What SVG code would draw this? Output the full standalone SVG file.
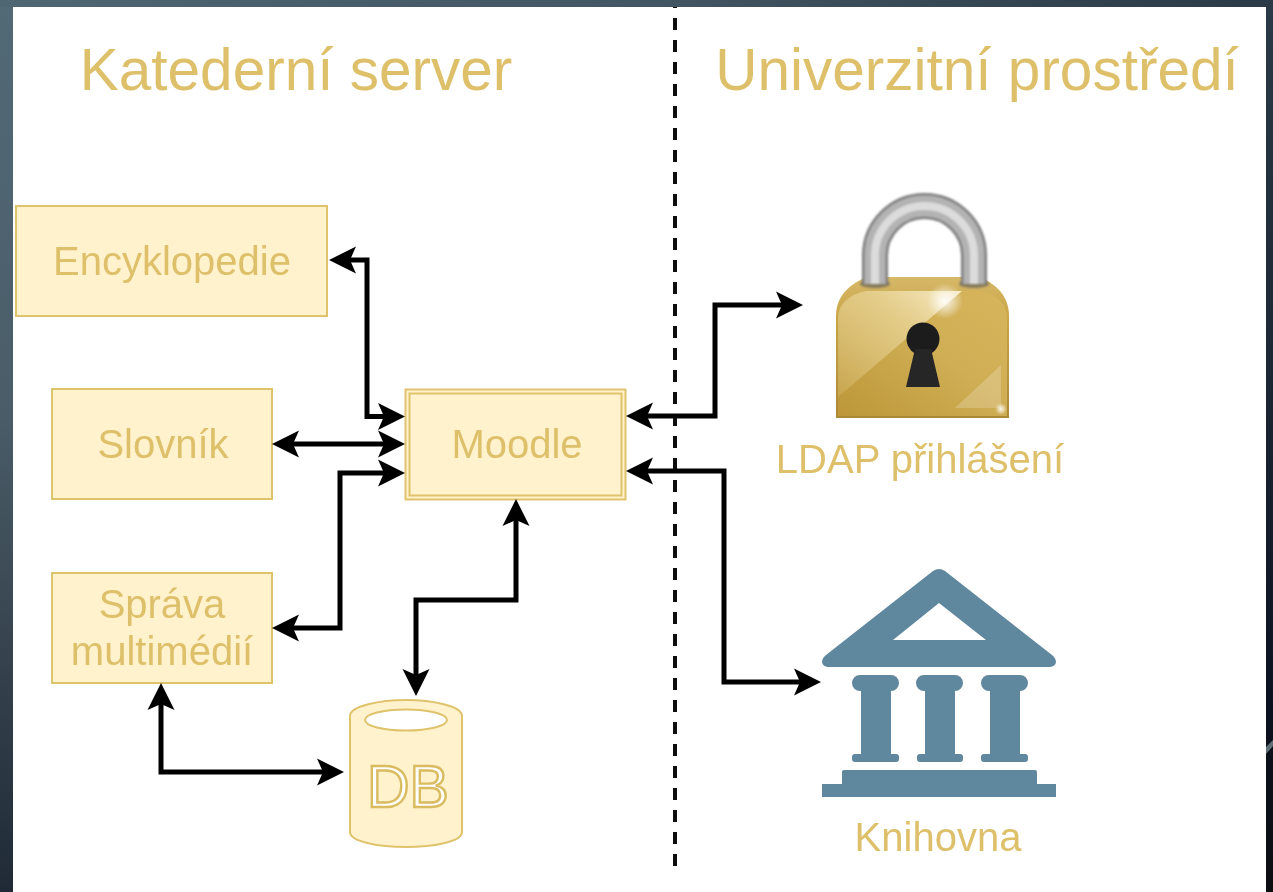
<svg xmlns="http://www.w3.org/2000/svg" width="1273" height="892" viewBox="0 0 1273 892">
<style>
.box{fill:#fff2cc;stroke:#dfc36c;stroke-width:2}
.t{font-family:"Liberation Sans",Arial,sans-serif;fill:#dec06a;text-anchor:middle}
.h{font-size:58.500px}
.l{font-size:40px}
.c{fill:none;stroke:#000;stroke-width:5;marker-start:url(#a);marker-end:url(#a)}
.bank{fill:#5f879e}
.sh{fill:none}
</style>
<defs>
<marker id="a" markerUnits="userSpaceOnUse" markerWidth="30" markerHeight="30" viewBox="0 0 30 30" refX="9" refY="15" orient="auto-start-reverse"><path d="M2 1.500 L29 15 L2 28.500 L8 15Z" fill="#000"/></marker>
<linearGradient id="bgL" x1="0" y1="0" x2="0" y2="1"><stop offset="0" stop-color="#526a76"/><stop offset=".45" stop-color="#4a5d69"/><stop offset=".68" stop-color="#3a4853"/><stop offset="1" stop-color="#1f2a36"/></linearGradient>
<linearGradient id="bgT" x1="0" y1="0" x2="1" y2="0"><stop offset="0" stop-color="#4f6673"/><stop offset=".5" stop-color="#435663"/><stop offset="1" stop-color="#2a3a46"/></linearGradient>
<linearGradient id="bgR" x1="0" y1="0" x2="0" y2="1"><stop offset="0" stop-color="#2a3a46"/><stop offset=".4" stop-color="#1c2833"/><stop offset=".78" stop-color="#0c1220"/><stop offset="1" stop-color="#0c0e12"/></linearGradient>
<linearGradient id="gold" x1="0" y1="1" x2="1" y2="0"><stop offset="0" stop-color="#bd9738"/><stop offset=".55" stop-color="#cfae55"/><stop offset="1" stop-color="#d6b55c"/></linearGradient>
<linearGradient id="goldEdge" x1="0" y1="0" x2="0" y2="1"><stop offset="0" stop-color="#d6b868"/><stop offset=".3" stop-color="#c9a445"/><stop offset="1" stop-color="#ab8a35"/></linearGradient>
<linearGradient id="wedge" x1="0" y1="1" x2="1" y2="0"><stop offset="0" stop-color="#f3e3b0" stop-opacity=".15"/><stop offset=".6" stop-color="#f3e3b0" stop-opacity=".55"/><stop offset="1" stop-color="#fbf2d4" stop-opacity=".9"/></linearGradient>
<linearGradient id="metal" gradientUnits="userSpaceOnUse" x1="862" y1="0" x2="888" y2="0"><stop offset="0" stop-color="#777"/><stop offset=".3" stop-color="#c9c9c9"/><stop offset=".55" stop-color="#e2e2e2"/><stop offset="1" stop-color="#8e8e8e"/></linearGradient>
<radialGradient id="glow"><stop offset="0" stop-color="#fff" stop-opacity=".9"/><stop offset="1" stop-color="#fff" stop-opacity="0"/></radialGradient>
<filter id="soft" filterUnits="userSpaceOnUse" x="820" y="180" width="210" height="250"><feGaussianBlur stdDeviation="1.200"/></filter>
<filter id="all" filterUnits="userSpaceOnUse" x="0" y="0" width="1273" height="892"><feGaussianBlur stdDeviation="0.700"/></filter>
</defs>
<rect width="1273" height="892" fill="url(#bgT)"/>
<rect x="0" y="7" width="13" height="885" fill="url(#bgL)"/>
<rect x="1266" y="7" width="7" height="885" fill="url(#bgR)"/>
<path d="M1266 747L1273 740V746L1266 754Z" fill="#5f6f78"/>
<rect x="13" y="7" width="1253" height="885" fill="#fff"/>
<g filter="url(#all)">
<text class="t h" x="296" y="90">Katederní server</text>
<text class="t h" x="977" y="90">Univerzitní prostředí</text>
<g id="divider"><path d="M675 7V866" fill="none" stroke="#111" stroke-width="4" stroke-dasharray="12 10" stroke-dashoffset="11"/></g>
<g id="encyklopedie"><rect class="box" x="16" y="206" width="311" height="110"/><text class="t l" x="172" y="275">Encyklopedie</text></g>
<g id="slovnik"><rect class="box" x="52" y="389" width="220" height="110"/><text class="t l" x="163" y="458">Slovník</text></g>
<g id="sprava"><rect class="box" x="52" y="573" width="220" height="110"/><text class="t l" x="162" y="618">Správa</text><text class="t l" x="162" y="665">multimédií</text></g>
<g id="moodle"><rect class="box" x="405.500" y="389.500" width="220" height="110"/><rect class="box" x="409.500" y="393.500" width="212" height="102"/><text class="t l" x="517" y="458">Moodle</text></g>
<g id="db"><path d="M350 716C350 706 380 700 406 700C432 700 462 706 462 716V832C462 842 432 847 406 847C380 847 350 842 350 832Z" fill="#fff2cc" stroke="#dfc36c" stroke-width="2"/><ellipse cx="406" cy="720" rx="41" ry="10.500" fill="#fff" stroke="#dfc36c" stroke-width="2"/><text x="408" y="807" font-family="Liberation Sans,Arial,sans-serif" font-size="59" text-anchor="middle" fill="#fff" stroke="#d9bb60" stroke-width="2.400">DB</text></g>
<g id="ldap">
<path d="M836 418V316C836 296 850 283 868 277H978C996 283 1009 296 1009 316V418Z" fill="url(#goldEdge)"/>
<path d="M838 416V318C838 304 850 294 866 291H980C996 294 1007 304 1007 318V416Z" fill="url(#gold)"/>
<path d="M838 397V318C838 304 850 294 866 291H962Z" fill="url(#wedge)"/>
<path d="M955 408L1001 365V408Z" fill="#fff" opacity=".2"/>
<circle cx="945" cy="301" r="18" fill="url(#glow)"/>
<circle cx="1001" cy="409" r="6" fill="url(#glow)"/>
<g filter="url(#soft)"><ellipse cx="875" cy="284" rx="15" ry="4" fill="#857a5c"/><ellipse cx="974" cy="284" rx="15" ry="4" fill="#857a5c"/></g>
<g filter="url(#soft)" class="sh"><path d="M875 284V255.500A49.500 49.500 0 0 1 974 255.500V284" stroke="#7c7c7c" stroke-width="26"/><path d="M875 284V255.500A49.500 49.500 0 0 1 974 255.500V284" stroke="#b3b3b3" stroke-width="21"/><path d="M875 284V255.500A49.500 49.500 0 0 1 974 255.500V284" stroke="#dcdcdc" stroke-width="8"/></g>
<circle cx="923" cy="339" r="16.500" fill="#1d1d1d"/><path d="M915 349H931L940 387H906Z" fill="#272727"/>
<text class="t" x="920" y="473" font-size="40">LDAP přihlášení</text>
</g>
<g id="knihovna">
<path class="bank" d="M933 571Q939 567 945 571L1052 655C1059 661 1056 667 1049 667H829C822 667 819 661 826 655ZM939 603L893 640H986Z" fill-rule="evenodd"/>
<path class="bank" d="M860 675H891A8 8 0 0 1 891 691V754H896Q899 754 899 757V759Q899 762 896 762H855Q852 762 852 759V757Q852 754 855 754H861V691H860A8 8 0 0 1 860 675Z"/>
<path class="bank" d="M924 675H955A8 8 0 0 1 955 691V754H960Q963 754 963 757V759Q963 762 960 762H920Q917 762 917 759V757Q917 754 920 754H925V691H924A8 8 0 0 1 924 675Z"/>
<path class="bank" d="M989 675H1020A8 8 0 0 1 1020 691V754H1025Q1028 754 1028 757V759Q1028 762 1025 762H984Q981 762 981 759V757Q981 754 984 754H990V691H989A8 8 0 0 1 989 675Z"/>
<path class="bank" d="M844 770H1035Q1037 770 1037 772V784H1056V797H822V784H842V772Q842 770 844 770Z"/>
<text class="t" x="938" y="851" font-size="40">Knihovna</text>
</g>
<g id="connectors">
<path class="c" d="M349 260H367V416.500H385"/>
<path class="c" d="M292 444H385"/>
<path class="c" d="M292 628H340V473H385"/>
<path class="c" d="M516 519V600H416V676"/>
<path class="c" d="M161 703V772H324"/>
<path class="c" d="M646 416H715V305H783"/>
<path class="c" d="M646 471H724V682H801"/>
</g>
</g>
</svg>
